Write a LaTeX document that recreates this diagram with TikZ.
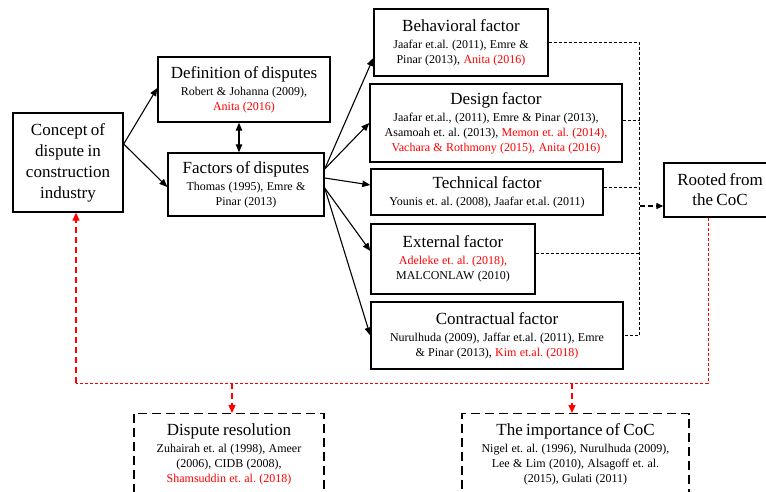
\documentclass[tikz,border=0pt]{standalone}
\usepackage{fontspec}
\setmainfont{Liberation Serif}
\usetikzlibrary{arrows.meta}
\frenchspacing
\newcommand{\ttl}[1]{{\fontsize{17}{19}\selectfont #1\par}\vspace{2pt}}
\newcommand{\rf}[1]{{\fontsize{12}{15}\selectfont #1\par}}
\newcommand{\rd}[1]{\textcolor{red}{#1}}
\begin{document}
\begin{tikzpicture}[x=1pt,y=-1pt,
  box/.style={draw, line width=1.4pt, rectangle, inner sep=0pt, align=center},
  dbox/.style={draw, line width=1.4pt, dash pattern=on 9pt off 5pt, rectangle, inner xsep=0pt, inner ysep=10pt, align=center, anchor=north},
  arr/.style={line width=1.1pt, -{Triangle[length=8pt,width=6.5pt]}},
  darr/.style={line width=1.1pt, {Triangle[length=8pt,width=6.5pt]}-{Triangle[length=8pt,width=6.5pt]}},
  blk/.style={line width=0.9pt, dash pattern=on 3pt off 2pt},
  blkarr/.style={line width=1.3pt, dash pattern=on 5pt off 3pt, -{Triangle[length=7pt,width=6pt]}},
  reddot/.style={red, line width=0.9pt, dash pattern=on 3pt off 2pt},
  redarr/.style={red, line width=1.4pt, dash pattern=on 6pt off 4pt, -{Triangle[length=8pt,width=7pt]}},
]
\useasboundingbox (0,0) rectangle (766,492);
\clip (0,0) rectangle (766,492);

\node[box, minimum width=110pt, minimum height=99pt, text width=106pt] (concept) at (68,162.5)
  {\fontsize{17}{21}\selectfont Concept of\\ dispute in\\ construction\\ industry\par};
\node[box, minimum width=172pt, minimum height=65pt, text width=168pt] (def) at (244,89.5)
  {\ttl{Definition of disputes}\rf{Robert \& Johanna (2009),\\ \rd{Anita (2016)}}};
\node[box, minimum width=156pt, minimum height=63pt, text width=152pt] (fac) at (246,184.5)
  {\ttl{Factors of disputes}\rf{Thomas (1995), Emre \&\\ Pinar (2013)}};
\node[box, minimum width=174pt, minimum height=67pt, text width=170pt] (beh) at (461,42.5)
  {\ttl{Behavioral factor}\rf{Jaafar et.al. (2011), Emre \&\\ Pinar (2013), \rd{Anita (2016)}}};
\node[box, minimum width=252pt, minimum height=78pt, text width=248pt] (des) at (496,123)
  {\ttl{Design factor}\rf{Jaafar et.al., (2011), Emre \& Pinar (2013),\\ Asamoah et. al. (2013), \rd{Memon et. al. (2014),}\\ \rd{Vachara \& Rothmony (2015), Anita (2016)}}};
\node[box, minimum width=232pt, minimum height=46pt, text width=228pt] (tech) at (487,192)
  {\ttl{Technical factor}\rf{Younis et. al. (2008), Jaafar et.al. (2011)}};
\node[box, minimum width=164pt, minimum height=70pt, text width=160pt] (ext) at (453,259)
  {\ttl{External factor}\rf{\rd{Adeleke et. al. (2018),}\\ MALCONLAW (2010)}};
\node[box, minimum width=252pt, minimum height=67pt, text width=248pt] (con) at (497,335.5)
  {\ttl{Contractual factor}\rf{Nurulhuda (2009), Jaffar et.al. (2011), Emre\\ \& Pinar (2013), \rd{Kim et.al. (2018)}}};
\node[box, minimum width=112pt, minimum height=54pt, text width=108pt] (rooted) at (720,190)
  {\fontsize{17}{20}\selectfont Rooted from\\ the CoC\par};
\node[dbox, minimum width=190pt, text width=186pt] (dr) at (229,413)
  {\ttl{Dispute resolution}\rf{Zuhairah et. al (1998), Ameer\\ (2006), CIDB (2008),\\ \rd{Shamsuddin et. al. (2018)}}};
\node[dbox, minimum width=227pt, text width=223pt] (imp) at (575.5,413)
  {\ttl{The importance of CoC}\rf{Nigel et. al. (1996), Nurulhuda (2009),\\ Lee \& Lim (2010), Alsagoff et. al.\\ (2015), Gulati (2011)}};

% solid arrows
\draw[arr] ([yshift=18.5pt]concept.east) -- ([yshift=1.5pt]def.west);
\draw[arr] ([yshift=18.5pt]concept.east) -- ([yshift=-2.5pt]fac.west);
\draw[darr] ([xshift=-5pt]def.south) -- ([xshift=-5pt]def.south |- fac.north);
\draw[arr] ([yshift=15.5pt]fac.east) -- ([yshift=-15.5pt]beh.west);
\draw[arr] ([yshift=15.5pt]fac.east) -- (des.west);
\draw[arr] ([yshift=6.5pt]fac.east) -- ([yshift=7pt]tech.west);
\draw[arr] ([yshift=-3.5pt]fac.east) -- ([yshift=8pt]ext.west);
\draw[arr] ([yshift=-3.5pt]fac.east) -- (con.west);

% black dashed collectors
\coordinate (vx) at (639.5,0);
\draw[blk] (beh.east) -- (beh.east -| vx) -- (con.east -| vx) -- (con.east);
\draw[blk] ([yshift=3pt]des.east) -- ([yshift=3pt]des.east -| vx);
\draw[blk] ([yshift=5pt]tech.east) -- ([yshift=5pt]tech.east -| vx);
\draw[blk] ([yshift=6pt]ext.east) -- ([yshift=6pt]ext.east -| vx);
\draw[blkarr] ([yshift=-16pt]rooted.west -| vx) -- ([yshift=-16pt]rooted.west);

% red dashed
\coordinate (rc) at (708,383);
\coordinate (lc) at (76,383);
\coordinate (m1) at (232,383);
\coordinate (m2) at (572,383);
\draw[reddot] (rooted.south -| rc) -- (rc) -- (lc);
\draw[redarr] (lc) -- (concept.south -| lc);
\draw[redarr] (m1) -- (dr.north -| m1);
\draw[redarr] (m2) -- (imp.north -| m2);
\end{tikzpicture}
\end{document}
